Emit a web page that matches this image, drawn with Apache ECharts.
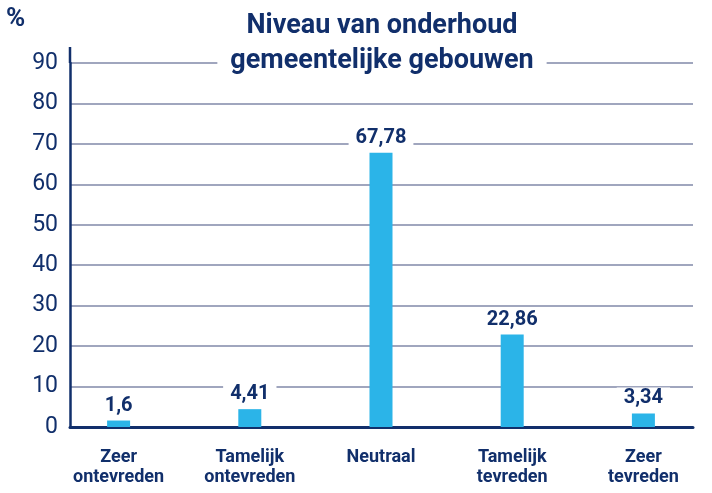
<!DOCTYPE html>
<html>
<head>
<meta charset="utf-8">
<script src="https://cdn.jsdelivr.net/npm/echarts@6/dist/echarts.min.js"></script>
<style>
  html, body { margin: 0; padding: 0; background: #fff; }
  #chart { width: 712px; height: 493px; }
</style>
</head>
<body>
<div id="chart"></div>
<script>
const categories = ["Zeer\nontevreden", "Tamelijk\nontevreden", "Neutraal", "Tamelijk\ntevreden", "Zeer\ntevreden"];
const percentages = [1.6, 4.41, 67.78, 22.86, 3.34];

const navy = "#112f6b";
const barBlue = "#2bb4e8";
const gridGrey = "#8189a9";
const font = "Roboto, 'Liberation Sans', sans-serif";

const chart = echarts.init(document.getElementById("chart"));
chart.setOption({
  animation: false,
  backgroundColor: "#fff",
  title: [
    {
      text: "Niveau van onderhoud\ngemeentelijke gebouwen",
      left: 369,
      textAlign: "center",
      top: 7,
      padding: [2, 13, 2, 13],
      backgroundColor: "#fff",
      textStyle: {
        color: navy,
        fontFamily: font,
        fontWeight: "bold",
        fontSize: 27,
        lineHeight: 35
      },
      z: 10
    },
    {
      text: "%",
      left: 6,
      top: 6,
      padding: 0,
      textStyle: { color: navy, fontFamily: font, fontWeight: "bold", fontSize: 26 }
    }
  ],
  graphic: [
    {
      type: "line",
      shape: { x1: 70, y1: 47, x2: 70, y2: 63 },
      style: { stroke: navy, lineWidth: 2.5 }
    }
  ],
  grid: [
    { left: 70, right: 19, top: 63, bottom: 66 },
    { left: 53, right: 3, top: 63, bottom: 66 }
  ],
  xAxis: [
    {
      type: "category",
      gridIndex: 0,
      data: categories,
      axisLine: { lineStyle: { color: navy, width: 3 } },
      axisTick: { show: false },
      axisLabel: { show: false },
      splitLine: { show: false }
    },
    {
      type: "category",
      gridIndex: 1,
      data: categories,
      axisLine: { show: false },
      axisTick: { show: false },
      axisLabel: {
        color: navy,
        fontFamily: font,
        fontWeight: "bold",
        fontSize: 18,
        lineHeight: 20,
        margin: 20,
        verticalAlign: "top",
        interval: 0
      }
    }
  ],
  yAxis: [
    {
      type: "value",
      gridIndex: 0,
      min: 0,
      max: 90,
      interval: 10,
      axisLine: { show: true, lineStyle: { color: navy, width: 2.5 } },
      axisTick: { show: false },
      axisLabel: { color: navy, fontFamily: font, fontSize: 23, margin: 12 },
      splitLine: { lineStyle: { color: gridGrey, width: 1.5 } }
    },
    {
      type: "value",
      gridIndex: 1,
      min: 0,
      max: 90,
      interval: 10,
      show: false,
      splitLine: { show: false }
    }
  ],
  series: [
    {
      type: "bar",
      xAxisIndex: 1,
      yAxisIndex: 1,
      data: percentages,
      barWidth: 23,
      itemStyle: { color: barBlue },
      label: {
        show: true,
        position: "top",
        distance: 4,
        color: navy,
        fontFamily: font,
        fontWeight: "bold",
        fontSize: 20,
        backgroundColor: "#fff",
        padding: [1, 7, 1, 7],
        formatter: function (p) {
          return String(p.value).replace(".", ",");
        }
      },
      z: 5
    }
  ]
});
</script>
</body>
</html>
